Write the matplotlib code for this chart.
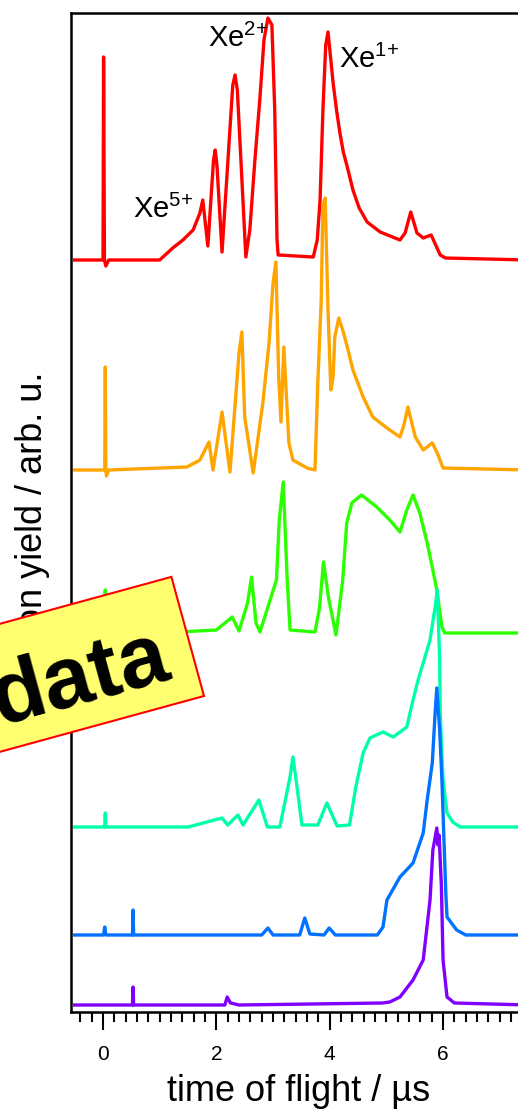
import matplotlib
matplotlib.use("Agg")
import matplotlib.pyplot as plt
from matplotlib.patches import Rectangle
from matplotlib.transforms import IdentityTransform
import numpy as np

plt.rcParams['font.family'] = ['Liberation Sans', 'DejaVu Sans']
plt.rcParams['mathtext.fontset'] = 'custom'
plt.rcParams['mathtext.rm'] = 'Liberation Sans'
plt.rcParams['mathtext.it'] = 'Liberation Sans:italic'
plt.rcParams['mathtext.bf'] = 'Liberation Sans:bold'

# time of flight (us) and ion yield above each trace's own baseline
t_red = [-0.50, 0.00, 0.01, 0.025, 0.05, 0.10, 1.00, 1.23, 1.41, 1.59, 1.71, 1.76, 1.85,
         1.95, 1.98, 2.01, 2.10, 2.29, 2.33, 2.37, 2.52, 2.59, 2.68, 2.77, 2.84, 2.91,
         2.98, 3.03, 3.07, 3.09, 3.71, 3.78, 3.83, 3.88, 3.93, 3.97, 4.02, 4.06, 4.12,
         4.18, 4.24, 4.31, 4.41, 4.52, 4.66, 4.89, 5.24, 5.33, 5.43, 5.54, 5.65, 5.79,
         5.95, 6.04, 7.50]
y_red = [0, 0, 203, 0, -6, 0, 0, 12, 20, 30, 47, 60, 14,
         100, 110, 95, 8, 175, 185, 170, 3, 30, 100, 163, 220, 242,
         235, 150, 20, 5, 3, 20, 60, 150, 215, 228, 200, 177, 150,
         127, 108, 93, 70, 52, 38, 28, 20, 27, 48, 27, 22, 25,
         5, 2, 0]

t_orange = [-0.50, 0.03, 0.04, 0.05, 0.06, 0.10, 1.48, 1.71, 1.87, 1.94, 2.10, 2.24, 2.40,
            2.45, 2.50, 2.65, 2.82, 2.93, 3.00, 3.05, 3.10, 3.14, 3.19, 3.28, 3.35, 3.60,
            3.74, 3.79, 3.85, 3.88, 3.92, 3.97, 4.02, 4.06, 4.09, 4.16, 4.24, 4.31, 4.41,
            4.59, 4.76, 5.01, 5.24, 5.31, 5.38, 5.51, 5.65, 5.81, 5.89, 6.00, 7.50]
y_orange = [0, 0, 103, 0, -6, 0, 3, 10, 28, 0, 58, -2, 117,
            138, 53, -3, 67, 127, 187, 208, 93, 48, 123, 27, 10, 2,
            0, 87, 170, 265, 272, 160, 80, 93, 133, 152, 138, 123, 100,
            73, 53, 42, 33, 45, 63, 33, 20, 27, 18, 2, 0]

t_green = [-0.50, 0.03, 0.04, 0.05, 1.00, 2.00, 2.28, 2.40, 2.55, 2.62, 2.70, 2.77, 3.06,
           3.11, 3.18, 3.25, 3.30, 3.74, 3.82, 3.89, 3.98, 4.11, 4.23, 4.30, 4.39, 4.56,
           4.83, 5.06, 5.24, 5.36, 5.47, 5.59, 5.72, 5.82, 5.89, 5.98, 6.03, 7.50]
y_green = [0, 0, 43, 0, 0, 3, 16, 2, 30, 56, 10, 1, 53,
           113, 151, 53, 3, 1, 25, 71, 35, -2, 53, 110, 130, 138,
           126, 113, 101, 123, 138, 120, 90, 63, 43, 6, 0, 0]

t_cyan = [-0.50, 0.03, 0.04, 0.05, 1.50, 2.10, 2.20, 2.38, 2.47, 2.75, 2.90, 3.12, 3.30,
          3.35, 3.40, 3.51, 3.79, 3.95, 4.13, 4.35, 4.46, 4.59, 4.71, 4.94, 5.12, 5.36,
          5.47, 5.56, 5.77, 5.86, 5.90, 5.94, 5.95, 6.00, 6.07, 6.17, 6.30, 7.50]
y_cyan = [0, 0, 14, 0, 0, 9, 2, 12, 2, 27, 0, 0, 50,
          70, 50, 2, 2, 24, 1, 2, 40, 74, 89, 95, 90, 100,
          127, 147, 187, 220, 237, 167, 114, 47, 14, 5, 0, 0]

t_blue = [-0.50, 0.01, 0.03, 0.05, 0.52, 0.53, 0.54, 2.80, 2.91, 3.00, 3.47, 3.56, 3.65,
          3.90, 3.99, 4.10, 4.84, 4.94, 5.01, 5.24, 5.47, 5.65, 5.72, 5.81, 5.86, 5.89,
          5.94, 5.98, 6.01, 6.05, 6.07, 6.24, 6.40, 7.50]
y_blue = [0, 0, 8, 0, 0, 25, 0, 0, 7, 0, 0, 17, 1,
          0, 7, 0, 0, 8, 35, 58, 72, 102, 135, 172, 222, 247,
          205, 155, 105, 40, 18, 5, 0, 0]

t_purple = [-0.50, 0.52, 0.53, 0.54, 2.15, 2.19, 2.25, 2.40, 4.93, 5.06, 5.24, 5.47, 5.65,
            5.77, 5.82, 5.89, 5.91, 5.93, 5.97, 6.00, 6.07, 6.20, 7.50]
y_purple = [0, 0, 18, 0, 0, 8, 2, 0, 2, 3, 8, 25, 45,
            105, 155, 177, 160, 170, 120, 45, 8, 2, 0]

times = [t_red, t_orange, t_green, t_cyan, t_blue, t_purple]
yields = [y_red, y_orange, y_green, y_cyan, y_blue, y_purple]
offsets = [752, 542, 379, 185, 77, 7]
colors = ['#ff0000', '#ffa500', '#2bff00', '#00ffaa', '#0072ff', '#8000ff']

peak_names = [r'Xe$^{5{+}}$', r'Xe$^{2{+}}$', r'Xe$^{1{+}}$']
peak_pos = [(0.53, 794), (1.85, 965), (4.16, 944)]

fig = plt.figure(figsize=(5.18, 11.10), dpi=100)
ax = fig.add_axes([71 / 518, 98 / 1110, 485.4 / 518, 999 / 1110])

for t, y, off, c in zip(times, yields, offsets, colors):
    ax.plot(t, np.array(y) + off, color=c, lw=2.4)

for name, (tx, ty) in zip(peak_names, peak_pos):
    ax.text(tx, ty, name, fontsize=21, ha='left', va='baseline')

ax.set_xlim(-0.565, 8.0)
ax.set_ylim(0, 999)
ax.set_xticks([0, 2, 4, 6])
ax.set_xticks(np.arange(-0.4, 8.0, 0.2), minor=True)
ax.tick_params(axis='x', which='major', length=13, width=1.5, direction='out',
               labelsize=15, pad=11)
ax.tick_params(axis='x', which='minor', length=7, width=1.5, direction='out')
ax.set_yticks([])
for s in ax.spines.values():
    s.set_linewidth(1.8)

ax.set_xlabel('time of flight / µs', fontsize=26)
ax.xaxis.set_label_coords(0.468, -0.062)
ax.set_ylabel('ion yield / arb. u.', fontsize=26)
ax.yaxis.set_label_coords(-0.043, 0.5085)

# "data" sticker, drawn in pixel coordinates
px = IdentityTransform()
ang = 15.3
w = 260
x0 = 204 - w * np.cos(np.radians(ang))
y0 = 414 - w * np.sin(np.radians(ang))
fig.add_artist(Rectangle((x0, y0), w, 123.5, angle=ang, transform=px,
                         facecolor='#ffff70', edgecolor='#ff0000', lw=1.5, zorder=10))
fig.text(86, 409, 'data', transform=px, rotation=ang, rotation_mode='anchor',
         ha='center', va='baseline', fontsize=63, fontweight='bold', zorder=11)

fig.savefig('out.png', dpi=100)
